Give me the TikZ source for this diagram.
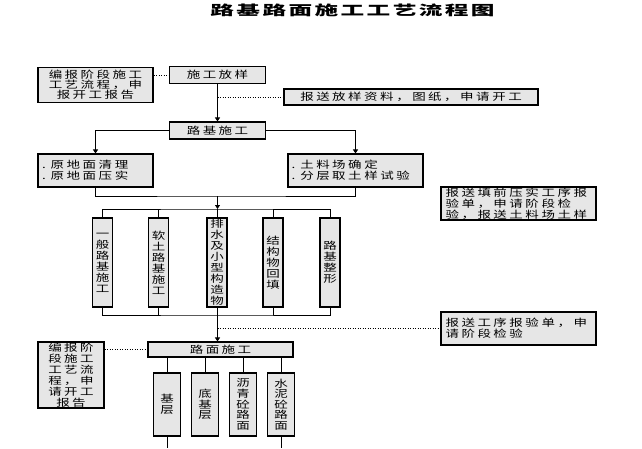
\documentclass[tikz,border=0pt]{standalone}
\usepackage{fontspec}
\setmainfont{Noto Sans CJK SC}[FakeStretch=1.35,LetterSpace=25]
\newfontfamily\titlefont{Noto Sans CJK SC}[FakeStretch=1.75,LetterSpace=18]
\usepackage{tikz}
\usetikzlibrary{arrows.meta, calc}
\definecolor{boxgray}{RGB}{230,230,230}

\begin{document}
\begin{tikzpicture}[x=1pt,y=-1pt,
    >={Triangle[length=4pt,width=5pt]},
    box/.style={draw, line width=1.1pt, fill=boxgray, inner sep=0pt,
        align=center, font=\fontsize{10}{9.8}\selectfont},
    note/.style={box, align=left, font=\fontsize{10}{11}\selectfont},
    vbox/.style={box, minimum width=20, minimum height=89,
        font=\fontsize{10}{11}\selectfont},
    lbox/.style={box, minimum width=27, minimum height=63,
        font=\fontsize{10}{10.6}\selectfont},
    link/.style={line width=0.9pt},
    dots/.style={line width=0.9pt, dash pattern=on 1pt off 1.5pt}]

    \useasboundingbox (0,0) rectangle (642,448);

    \node (title) at (352.5,10) {\titlefont\bfseries\fontsize{13.5}{13.5}\selectfont 路基路面施工工艺流程图};

    % upper part
    \node[box, minimum width=115, minimum height=35] (rptA) at (95.5,85) {编报阶段施工\\工艺流程，申\\报开工报告};
    \node[box, minimum width=96, minimum height=17] (fy) at (217.5,75) {施工放样};
    \node[box, minimum width=254, minimum height=16] (sendA) at (411,97) {报送放样资料，图纸，申请开工};
    \node[box, minimum width=96, minimum height=17] (ljsg) at (217.5,130.5) {路基施工};
    \node[note, minimum width=115, minimum height=33, text width=107] (clrA) at (95.5,170.5) {. 原地面清理\\. 原地面压实};
    \node[note, minimum width=135, minimum height=33, text width=128] (clrB) at (355.5,170.5) {. 土料场确定\\. 分层取土样试验};
    \node[note, minimum width=155, minimum height=33, text width=146] (sendB) at (518.5,203.5) {报送填前压实工序报\\验单，申请阶段检\\验，报送土料场土样};

    % subgrade works
    \node[vbox] (b1) at (102.5,262.5) {一\\般\\路\\基\\施\\工};
    \node[vbox] (b2) at (158.5,262.5) {软\\土\\路\\基\\施\\工};
    \node[vbox] (b3) at (217,262.5) {排\\水\\及\\小\\型\\构\\造\\物};
    \node[vbox] (b4) at (273,262.5) {结\\构\\物\\回\\填};
    \node[vbox] (b5) at (330,262.5) {路\\基\\整\\形};

    % pavement
    \node[note, minimum width=155, minimum height=33, text width=146] (sendC) at (518.5,328.5) {报送工序报验单，申\\请阶段检验};
    \node[box, minimum width=145, minimum height=15] (surf) at (220.5,349.5) {路面施工};
    \node[box, minimum width=66, minimum height=66, font=\fontsize{10}{11}\selectfont] (rptB) at (71,375) {编报阶\\段施工\\工艺流\\程，申\\请开工\\报告};
    \node[lbox] (c1) at (167,404.5) {基\\层};
    \node[lbox] (c2) at (205,404.5) {底\\基\\层};
    \node[lbox] (c3) at (243,404.5) {沥\\青\\砼\\路\\面};
    \node[lbox] (c4) at (281,404.5) {水\\泥\\砼\\路\\面};

    \coordinate (mA) at (217.5,196);
    \coordinate (barT) at (217.5,209);
    \coordinate (barB) at (217.5,315);
    \coordinate (bot) at (0,448);

    % connectors
    \draw[dots] (rptA.east |- fy.west) -- (fy.west);
    \draw[link,->] (fy) -- (ljsg);
    \draw[dots] (fy.south |- sendA.west) -- (sendA.west);
    \draw[link,->] (ljsg.west) -| (clrA.north);
    \draw[link,->] (ljsg.east) -| (clrB.north);
    \draw[link] (clrA.south) |- (mA) -| (clrB.south);
    \draw[link,->] (mA) -- (barT);
    \draw[dots] ($(mA)!0.4!(barT)$) -- ($(mA)!0.4!(barT)$ -| sendB.west);
    \draw[link] (b1.north) |- (barT) -| (b5.north);
    \draw[link] (b1.south) |- (barB) -| (b5.south);
    \foreach \b in {b2,b3,b4} {
        \draw[link] (\b.north) -- (\b.north |- barT);
        \draw[link] (\b.south) -- (\b.south |- barB);
    }
    \draw[link,->] (barB) -- (barB |- surf.north);
    \draw[dots] (barB |- sendC.west) -- (sendC.west);
    \draw[dots] (rptB.east |- surf.west) -- (surf.west);
    \foreach \c in {c1,c2,c3,c4}
        \draw[link] (\c.north |- surf.south) -- (\c.north);
    \draw[link] (c1.south) -- (c1.south |- bot);
    \draw[link] (c4.south) -- (c4.south |- bot);
\end{tikzpicture}
\end{document}
